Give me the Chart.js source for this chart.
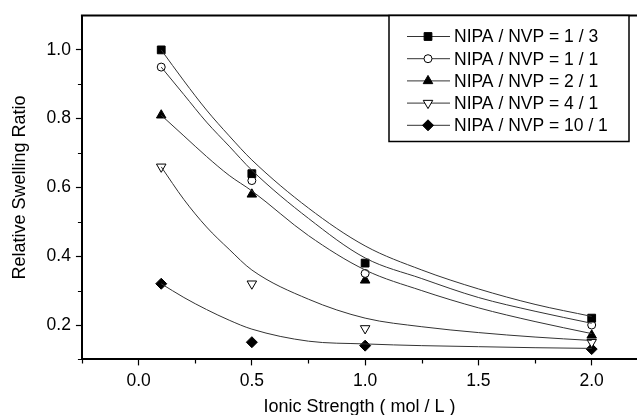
<!DOCTYPE html>
<html>
<head>
<meta charset="utf-8">
<script src="https://cdn.jsdelivr.net/npm/chart.js"></script>
<style>
  html, body { margin: 0; padding: 0; background: #fff; }
</style>
</head>
<body>
<canvas id="swelling" width="637" height="415"></canvas>
<script>
// measured points
var ionic = [0.1, 0.5, 1.0, 2.0];
var ratio13 = [1.00, 0.64, 0.38, 0.22];
var ratio11 = [0.95, 0.62, 0.35, 0.20];
var ratio21 = [0.81, 0.58, 0.33, 0.17];
var ratio41 = [0.66, 0.32, 0.19, 0.15];
var ratio101 = [0.32, 0.15, 0.14, 0.13];

// fitted curves
var fitX = [0.1, 0.2, 0.3, 0.4, 0.5, 0.75, 1.0, 1.25, 1.5, 1.75, 2.0];
var fit13 = [1.00, 0.91, 0.825, 0.75, 0.68, 0.54, 0.43, 0.36, 0.305, 0.26, 0.225];
var fit11 = [0.95, 0.87, 0.79, 0.72, 0.65, 0.51, 0.395, 0.335, 0.28, 0.24, 0.205];
var fit21 = [0.81, 0.75, 0.69, 0.635, 0.59, 0.46, 0.36, 0.30, 0.25, 0.21, 0.175];
var fit41 = [0.66, 0.565, 0.485, 0.42, 0.36, 0.275, 0.22, 0.195, 0.178, 0.165, 0.155];
var fit101 = [0.32, 0.28, 0.245, 0.214, 0.188, 0.153, 0.145, 0.14, 0.137, 0.134, 0.132];

var names = ['NIPA / NVP = 1 / 3', 'NIPA / NVP = 1 / 1', 'NIPA / NVP = 2 / 1', 'NIPA / NVP = 4 / 1', 'NIPA / NVP = 10 / 1'];
var xTicks = [0.0, 0.5, 1.0, 1.5, 2.0];
var xMinor = [-0.25, 0.25, 0.75, 1.25, 1.75];
var yTicks = [0.2, 0.4, 0.6, 0.8, 1.0];
var yMinor = [0.1, 0.3, 0.5, 0.7, 0.9];

var pointStyles = ['rect', 'circle', 'triangle', 'triangle', 'rectRot'];
var pointRot = [0, 0, 0, 180, 0];
var pointFill = ['#000', '#fff', '#000', '#fff', '#000'];
var pointRad = [5.5, 4, 5.5, 5.5, 5.5];

var FONT = '"Liberation Sans", Arial, sans-serif';

var fits = [fit13, fit11, fit21, fit41, fit101];
var pts = [ratio13, ratio11, ratio21, ratio41, ratio101];
var datasets = [];

fits.forEach(function (f, i) {
   datasets.push({
      label: names[i] + ' fit',
      data: fitX.map(function (x, j) { return { x: x, y: f[j] }; }),
      showLine: true,
      borderColor: '#333',
      borderWidth: 1,
      pointRadius: 0,
      cubicInterpolationMode: 'monotone',
      fill: false,
   });
});
pts.forEach(function (p, i) {
   datasets.push({
      label: names[i],
      data: ionic.map(function (x, j) { return { x: x, y: p[j] }; }),
      showLine: false,
      pointStyle: pointStyles[i],
      rotation: pointRot[i],
      pointRadius: pointRad[i],
      backgroundColor: pointFill[i],
      borderColor: '#000',
      borderWidth: 1,
   });
});

// top frame line, minor ticks and boxed legend
var extras = {
   id: 'extras',
   afterDraw: function (chart) {
      var ctx = chart.ctx;
      var a = chart.chartArea;
      var xs = chart.scales.x, ys = chart.scales.y;
      ctx.save();
      ctx.strokeStyle = '#000';
      ctx.lineWidth = 2;
      ctx.beginPath();
      ctx.moveTo(a.left - 1, a.top);
      ctx.lineTo(chart.width, a.top);
      ctx.stroke();

      ctx.lineWidth = 1.2;
      ctx.beginPath();
      xMinor.forEach(function (v) {
         var px = Math.round(xs.getPixelForValue(v)) + 0.5;
         ctx.moveTo(px, a.bottom);
         ctx.lineTo(px, a.bottom + 4);
      });
      yMinor.forEach(function (v) {
         var py = Math.round(ys.getPixelForValue(v)) + 0.5;
         ctx.moveTo(a.left, py);
         ctx.lineTo(a.left - 4, py);
      });
      ctx.stroke();

      // legend
      var bw = 240, bh = 126;
      var bx = chart.width - 8 - bw, by = a.top;
      ctx.fillStyle = '#fff';
      ctx.fillRect(bx, by, bw, bh);
      ctx.lineWidth = 1.5;
      ctx.strokeRect(bx, by, bw, bh);
      ctx.font = '17.5px ' + FONT;
      ctx.textBaseline = 'middle';
      ctx.textAlign = 'left';
      names.forEach(function (n, i) {
         var y = by + 21 + i * 22.2;
         ctx.strokeStyle = '#333';
         ctx.lineWidth = 1;
         ctx.beginPath();
         ctx.moveTo(bx + 18, y);
         ctx.lineTo(bx + 61, y);
         ctx.stroke();
         ctx.strokeStyle = '#000';
         ctx.fillStyle = pointFill[i];
         Chart.helpers.drawPoint(ctx, {
            pointStyle: pointStyles[i],
            rotation: pointRot[i],
            radius: pointRad[i],
            borderWidth: 1,
         }, bx + 39, y);
         ctx.fillStyle = '#000';
         ctx.fillText(n, bx + 65, y + 1);
      });
      ctx.restore();
   },
};

new Chart('swelling', {
   type: 'scatter',
   data: { datasets: datasets },
   options: {
      responsive: false,
      animation: false,
      devicePixelRatio: 1,
      layout: { autoPadding: false, padding: { left: 4, top: 14, right: 0, bottom: -3 } },
      plugins: { legend: { display: false }, tooltip: { enabled: false } },
      scales: {
         x: {
            type: 'linear',
            min: -0.25,
            max: 2.2,
            afterBuildTicks: function (s) {
               s.ticks = xTicks.map(function (v) { return { value: v }; });
            },
            ticks: {
               autoSkip: false,
               maxRotation: 0,
               padding: 5,
               color: '#000',
               font: { family: FONT, size: 17.5 },
               callback: function (v) { return Number(v).toFixed(1); },
            },
            grid: { drawOnChartArea: false, tickLength: 6, tickColor: '#000', tickWidth: 1.2 },
            border: { color: '#000', width: 2 },
            title: {
               display: true,
               text: 'Ionic Strength ( mol / L )',
               color: '#000',
               font: { family: FONT, size: 18 },
               padding: { top: 0, bottom: 0 },
            },
         },
         y: {
            type: 'linear',
            min: 0.1,
            max: 1.1,
            afterBuildTicks: function (s) {
               s.ticks = yTicks.map(function (v) { return { value: v }; });
            },
            ticks: {
               padding: 5,
               color: '#000',
               font: { family: FONT, size: 17.5 },
               callback: function (v) { return Number(v).toFixed(1); },
            },
            grid: { drawOnChartArea: false, tickLength: 6, tickColor: '#000', tickWidth: 1.2 },
            border: { color: '#000', width: 2 },
            title: {
               display: true,
               text: 'Relative Swelling Ratio',
               color: '#000',
               font: { family: FONT, size: 18 },
               padding: { top: 5, bottom: 11 },
            },
         },
      },
   },
   plugins: [extras],
});
</script>
</body>
</html>
